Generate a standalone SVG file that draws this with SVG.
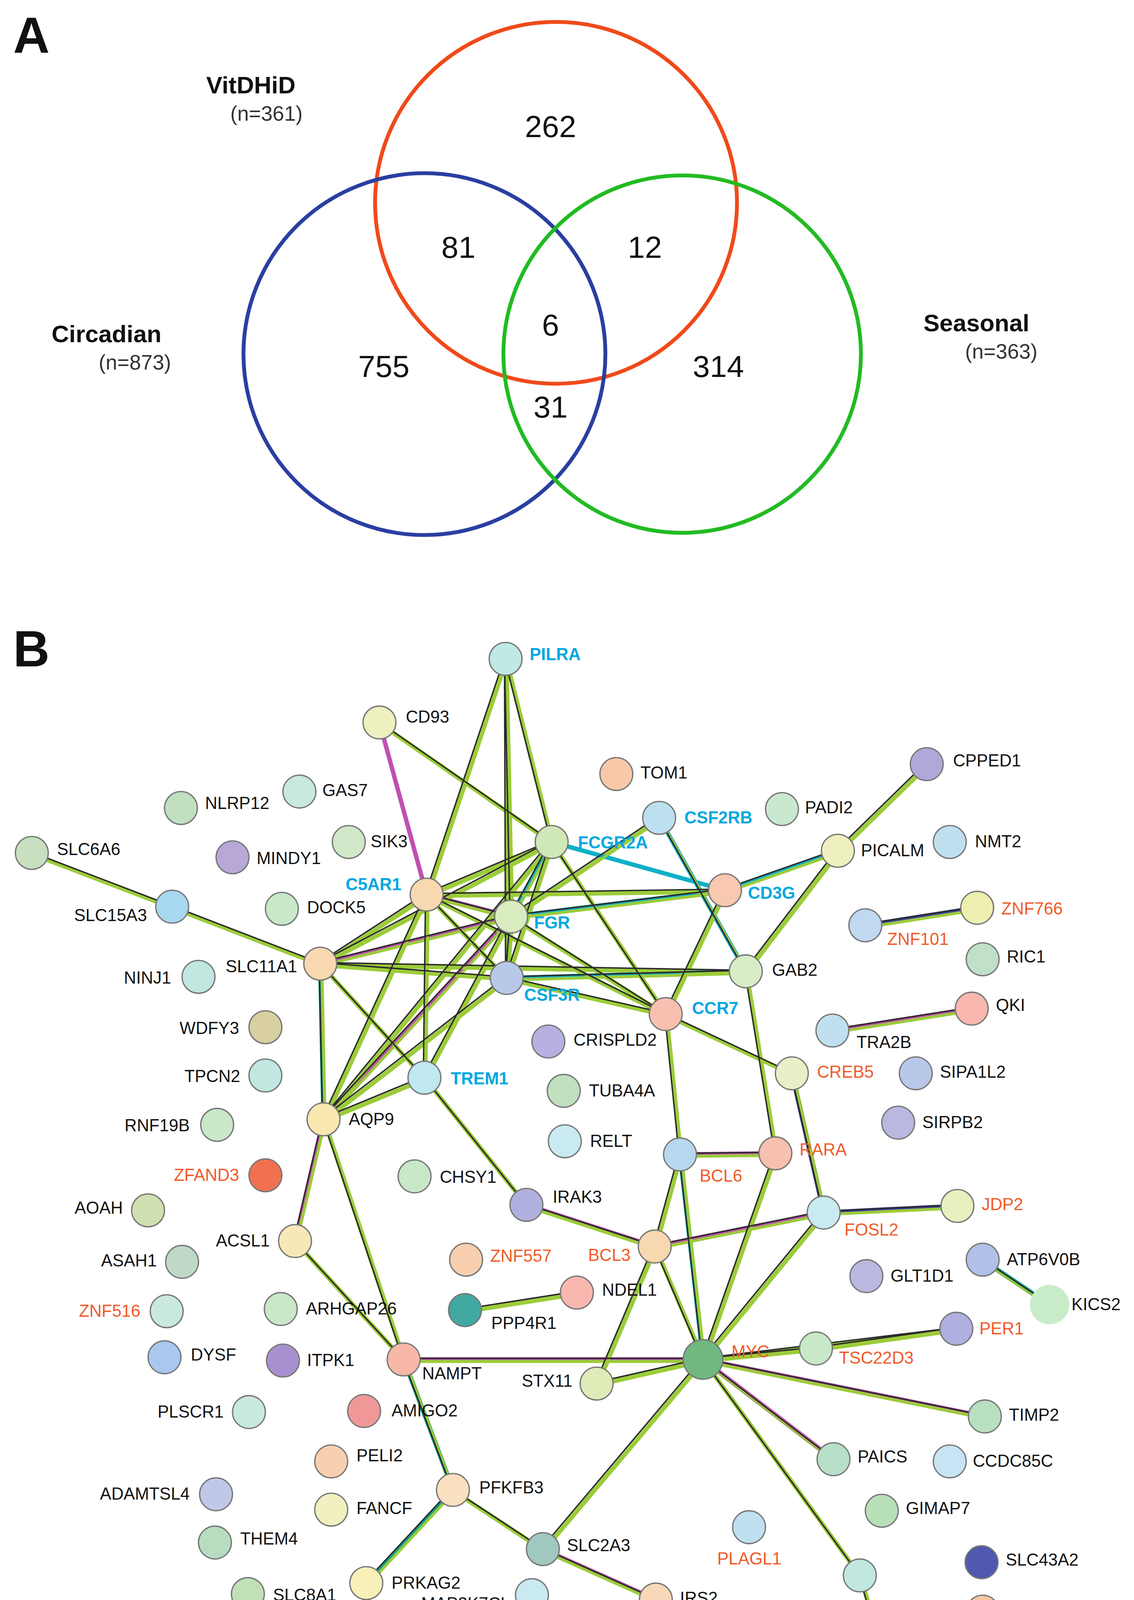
<svg xmlns="http://www.w3.org/2000/svg" xmlns:xlink="http://www.w3.org/1999/xlink" width="2902" height="4408" viewBox="0 0 2902 4408">
<style>
text{font-family:"Liberation Sans",Arial,sans-serif;fill:#111}
.big{font-size:46px;font-weight:bold}
.num{font-size:28px}
.set{font-size:22px;font-weight:bold}
.n{font-size:19px;fill:#333}
.l{font-size:15.5px}
.c{fill:#00a8e0;font-weight:bold}
.r{fill:#f05a28}
.end{text-anchor:end}
circle.v{fill:none;stroke-width:3.5}
.nd circle{stroke:#777;stroke-width:1.2}
.eg{fill:none;stroke:#9ccc3a;stroke-width:4}
.ek{fill:none;stroke:#2a2a2a;stroke-width:1.3}
.ep{stroke:#c050b0;stroke-width:4}
.ec{stroke:#10b0c8;stroke-width:4}
.eb{stroke:#4040a0;stroke-width:4}
.et{stroke:#10a090;stroke-width:4}
</style>
<rect width="2902" height="4408" fill="#fff"/>
<g transform="scale(2.8066)">
<g id="venn">
<text class="big" x="12" y="48">A</text>
<circle class="v" cx="507" cy="185" r="165" stroke="#f04a1a"/>
<circle class="v" cx="387" cy="323" r="165" stroke="#2a3fa0"/>
<circle class="v" cx="622" cy="323" r="163" stroke="#22bb22"/>
<text class="set" x="188" y="85">VitDHiD</text><text class="n" x="210" y="110">(n=361)</text>
<text class="set" x="47" y="312">Circadian</text><text class="n" x="90" y="337">(n=873)</text>
<text class="set" x="842" y="302">Seasonal</text><text class="n" x="880" y="327">(n=363)</text>
<g text-anchor="middle">
<text class="num" x="502" y="125">262</text><text class="num" x="418" y="235">81</text><text class="num" x="588" y="235">12</text><text class="num" x="502" y="306">6</text><text class="num" x="350" y="344">755</text><text class="num" x="655" y="344">314</text><text class="num" x="502" y="381">31</text>
</g>
</g>
<text class="big" x="12" y="608">B</text>
<defs>
<g id="E">
<path d="M461 601L389 816M461 601L503 768M461 601L466 836M461 601L462 892M346 659L503 768M29 778L157 827M157 827L292 879M389 816L292 879M389 816L503 768M389 816L466 836M389 816L462 892M389 816L387 983M389 816L295 1021M389 816L661 812M389 816L607 925M503 768L292 879M503 768L466 836M503 768L462 892M503 768L295 1021M503 768L607 925M466 836L292 879M466 836L661 812M466 836L462 892M466 836L387 983M466 836L295 1021M466 836L607 925M601 746L680 886M601 746L466 836M764 776L845 697M764 776L661 812M764 776L680 886M886 920L759 940M292 879L462 892M292 879L680 886M292 879L387 983M292 879L295 1021M462 892L295 1021M462 892L680 886M462 892L607 925M661 812L607 925M607 925L722 979M607 925L620 1053M680 886L707 1052M387 983L295 1021M387 983L480 1099M295 1021L269 1132M295 1021L368 1240M722 979L751 1106M480 1099L597 1137M620 1053L707 1052M620 1053L597 1137M620 1053L641 1240M707 1052L641 1240M751 1106L597 1137M751 1106L873 1100M751 1106L641 1240M597 1137L544 1262M597 1137L641 1240M526 1179L424 1195M896 1149L957 1190M269 1132L368 1240M368 1240L641 1240M368 1240L413 1359M641 1240L744 1230M641 1240L872 1212M641 1240L898 1292M641 1240L760 1331M641 1240L784 1437M641 1240L495 1413M641 1240L544 1262M744 1230L872 1212M413 1359L495 1413M413 1359L334 1444M495 1413L598 1459M784 1437L813 1537M789 844L891 828"/>
</g>
</defs>
<g id="connectors">
<g class="eg"><use xlink:href="#E" transform="translate(0.8,1.2)"/></g>
<g fill="none">
<path class="ep" d="M346 659L389 816M389 816L466 836M292 879L466 836M466 836L295 1021M269 1132L295 1021M480 1099L597 1137M620 1053L707 1052M751 1106L597 1137M368 1240L641 1240M495 1413L598 1459M886 920L759 940M641 1240L760 1331M641 1240L898 1292"/>
<path class="ec" d="M503 768L661 812M764 776L661 812M601 746L680 886M620 1053L641 1240M466 836L462 892M466 836L661 812M462 892L680 886M503 768L466 836"/>
<path class="eb" d="M789 844L891 828M751 1106L873 1100M722 979L751 1106"/>
<path class="et" d="M292 879L295 1021M368 1240L413 1359M413 1359L334 1444M896 1149L957 1190"/>
</g>
<g class="eg" style="stroke-width:2.2"><use xlink:href="#E" transform="translate(1.2,1.6)"/></g>
<g class="ek"><use xlink:href="#E" transform="translate(-1,-1)"/></g>
</g>
<g class="nd">
<g id="PILRA"><circle cx="461" cy="601" r="15" fill="#c0e8e4"/><text class="l c" x="483" y="602">PILRA</text></g>
<g id="CD93"><circle cx="346" cy="659" r="15" fill="#eef0c0"/><text class="l" x="370" y="659">CD93</text></g>
<g id="TOM1"><circle cx="562" cy="706" r="15" fill="#f8c8a8"/><text class="l" x="584" y="710">TOM1</text></g>
<g id="CPPED1"><circle cx="845" cy="697" r="15" fill="#b0a8d8"/><text class="l" x="869" y="699">CPPED1</text></g>
<g id="NLRP12"><circle cx="165" cy="737" r="15" fill="#c0e0c0"/><text class="l" x="187" y="738">NLRP12</text></g>
<g id="GAS7"><circle cx="273" cy="722" r="15" fill="#c8e8e0"/><text class="l" x="294" y="726">GAS7</text></g>
<g id="PADI2"><circle cx="713" cy="738" r="15" fill="#c8e8d0"/><text class="l" x="734" y="742">PADI2</text></g>
<g id="CSF2RB"><circle cx="601" cy="746" r="15" fill="#bde0f0"/><text class="l c" x="624" y="751">CSF2RB</text></g>
<g id="SLC6A6"><circle cx="29" cy="778" r="15" fill="#c8e0c0"/><text class="l" x="52" y="780">SLC6A6</text></g>
<g id="MINDY1"><circle cx="212" cy="782" r="15" fill="#b8a8d8"/><text class="l" x="234" y="788">MINDY1</text></g>
<g id="SIK3"><circle cx="318" cy="768" r="15" fill="#d0e8c8"/><text class="l" x="338" y="773">SIK3</text></g>
<g id="FCGR2A"><circle cx="503" cy="768" r="15" fill="#d0e8b8"/><text class="l c" x="527" y="774">FCGR2A</text></g>
<g id="PICALM"><circle cx="764" cy="776" r="15" fill="#eef0c0"/><text class="l" x="785" y="781">PICALM</text></g>
<g id="NMT2"><circle cx="866" cy="768" r="15" fill="#c0e0f0"/><text class="l" x="889" y="773">NMT2</text></g>
<g id="C5AR1"><circle cx="389" cy="816" r="15" fill="#f8d8b0"/><text class="l c end" x="366" y="812">C5AR1</text></g>
<g id="SLC15A3"><circle cx="157" cy="827" r="15" fill="#a8d8f0"/><text class="l end" x="134" y="840">SLC15A3</text></g>
<g id="DOCK5"><circle cx="257" cy="829" r="15" fill="#c8e8c8"/><text class="l" x="280" y="833">DOCK5</text></g>
<g id="CD3G"><circle cx="661" cy="812" r="15" fill="#f8c8b0"/><text class="l c" x="682" y="820">CD3G</text></g>
<g id="ZNF766"><circle cx="891" cy="828" r="15" fill="#eef0b0"/><text class="l r" x="913" y="834">ZNF766</text></g>
<g id="ZNF101"><circle cx="789" cy="844" r="15" fill="#c0d8f0"/><text class="l r" x="809" y="862">ZNF101</text></g>
<g id="FGR"><circle cx="466" cy="836" r="15" fill="#d8ecc0"/><text class="l c" x="487" y="847">FGR</text></g>
<g id="NINJ1"><circle cx="181" cy="891" r="15" fill="#c0e8e0"/><text class="l end" x="156" y="897">NINJ1</text></g>
<g id="SLC11A1"><circle cx="292" cy="879" r="15" fill="#f8d8b0"/><text class="l end" x="271" y="887">SLC11A1</text></g>
<g id="GAB2"><circle cx="680" cy="886" r="15" fill="#d8ecc8"/><text class="l" x="704" y="890">GAB2</text></g>
<g id="RIC1"><circle cx="896" cy="875" r="15" fill="#c0e0c8"/><text class="l" x="918" y="878">RIC1</text></g>
<g id="CSF3R"><circle cx="462" cy="892" r="15" fill="#b8c8e8"/><text class="l c" x="478" y="913">CSF3R</text></g>
<g id="QKI"><circle cx="886" cy="920" r="15" fill="#f8b8b0"/><text class="l" x="908" y="922">QKI</text></g>
<g id="CCR7"><circle cx="607" cy="925" r="15" fill="#f8c0b0"/><text class="l c" x="631" y="925">CCR7</text></g>
<g id="WDFY3"><circle cx="242" cy="937" r="15" fill="#d8d0a0"/><text class="l end" x="218" y="943">WDFY3</text></g>
<g id="TRA2B"><circle cx="759" cy="940" r="15" fill="#c0e0f0"/><text class="l" x="781" y="956">TRA2B</text></g>
<g id="CRISPLD2"><circle cx="500" cy="950" r="15" fill="#b8b0e0"/><text class="l" x="523" y="954">CRISPLD2</text></g>
<g id="CREB5"><circle cx="722" cy="979" r="15" fill="#e8f0c8"/><text class="l r" x="745" y="983">CREB5</text></g>
<g id="SIPA1L2"><circle cx="835" cy="979" r="15" fill="#b8c8e8"/><text class="l" x="857" y="983">SIPA1L2</text></g>
<g id="TPCN2"><circle cx="242" cy="981" r="15" fill="#c0e8e0"/><text class="l end" x="219" y="987">TPCN2</text></g>
<g id="TREM1"><circle cx="387" cy="983" r="15" fill="#c0e8f0"/><text class="l c" x="411" y="989">TREM1</text></g>
<g id="TUBA4A"><circle cx="514" cy="995" r="15" fill="#c0e0c0"/><text class="l" x="537" y="1000">TUBA4A</text></g>
<g id="SIRPB2"><circle cx="819" cy="1024" r="15" fill="#b8b8e0"/><text class="l" x="841" y="1029">SIRPB2</text></g>
<g id="RNF19B"><circle cx="198" cy="1026" r="15" fill="#c8e8c8"/><text class="l end" x="173" y="1032">RNF19B</text></g>
<g id="AQP9"><circle cx="295" cy="1021" r="15" fill="#f8e8b0"/><text class="l" x="318" y="1026">AQP9</text></g>
<g id="RELT"><circle cx="515" cy="1041" r="15" fill="#c8eaf0"/><text class="l" x="538" y="1046">RELT</text></g>
<g id="BCL6"><circle cx="620" cy="1053" r="15" fill="#b8d8f0"/><text class="l r" x="638" y="1078">BCL6</text></g>
<g id="RARA"><circle cx="707" cy="1052" r="15" fill="#f8c0b0"/><text class="l r" x="729" y="1054">RARA</text></g>
<g id="ZFAND3"><circle cx="242" cy="1072" r="15" fill="#f07050"/><text class="l r end" x="218" y="1077">ZFAND3</text></g>
<g id="CHSY1"><circle cx="378" cy="1073" r="15" fill="#c8e8c8"/><text class="l" x="401" y="1079">CHSY1</text></g>
<g id="AOAH"><circle cx="135" cy="1104" r="15" fill="#d0e0b0"/><text class="l end" x="112" y="1107">AOAH</text></g>
<g id="IRAK3"><circle cx="480" cy="1099" r="15" fill="#b0b0e0"/><text class="l" x="504" y="1097">IRAK3</text></g>
<g id="FOSL2"><circle cx="751" cy="1106" r="15" fill="#c8eaf0"/><text class="l r" x="770" y="1127">FOSL2</text></g>
<g id="JDP2"><circle cx="873" cy="1100" r="15" fill="#e8f0c0"/><text class="l r" x="895" y="1104">JDP2</text></g>
<g id="ACSL1"><circle cx="269" cy="1132" r="15" fill="#f8e8b8"/><text class="l end" x="246" y="1137">ACSL1</text></g>
<g id="ZNF557"><circle cx="425" cy="1149" r="15" fill="#f8d0b0"/><text class="l r" x="447" y="1151">ZNF557</text></g>
<g id="BCL3"><circle cx="597" cy="1137" r="15" fill="#f8d8b0"/><text class="l r end" x="575" y="1150">BCL3</text></g>
<g id="ASAH1"><circle cx="166" cy="1151" r="15" fill="#c0d8c8"/><text class="l end" x="143" y="1155">ASAH1</text></g>
<g id="ATP6V0B"><circle cx="896" cy="1149" r="15" fill="#b0c0e8"/><text class="l" x="918" y="1154">ATP6V0B</text></g>
<g id="KICS2"><circle cx="957" cy="1190" r="18" fill="#c8ecc8" style="stroke:none"/><text class="l" x="977" y="1195">KICS2</text></g>
<g id="GLT1D1"><circle cx="790" cy="1164" r="15" fill="#b8b8e0"/><text class="l" x="812" y="1169">GLT1D1</text></g>
<g id="NDEL1"><circle cx="526" cy="1179" r="15" fill="#f8b8b0"/><text class="l" x="549" y="1182">NDEL1</text></g>
<g id="ZNF516"><circle cx="152" cy="1196" r="15" fill="#c8e8e0"/><text class="l r end" x="128" y="1201">ZNF516</text></g>
<g id="ARHGAP26"><circle cx="256" cy="1194" r="15" fill="#c8e8c8"/><text class="l" x="279" y="1199">ARHGAP26</text></g>
<g id="PPP4R1"><circle cx="424" cy="1195" r="15" fill="#40a8a0"/><text class="l" x="448" y="1212">PPP4R1</text></g>
<g id="PER1"><circle cx="872" cy="1212" r="15" fill="#b0b0e0"/><text class="l r" x="893" y="1217">PER1</text></g>
<g id="DYSF"><circle cx="150" cy="1238" r="15" fill="#a8c8f0"/><text class="l" x="174" y="1241">DYSF</text></g>
<g id="ITPK1"><circle cx="258" cy="1241" r="15" fill="#a890d0"/><text class="l" x="280" y="1246">ITPK1</text></g>
<g id="NAMPT"><circle cx="368" cy="1240" r="15" fill="#f8b8a8"/><text class="l" x="385" y="1258">NAMPT</text></g>
<g id="MYC"><circle cx="641" cy="1240" r="18" fill="#70b880"/><text class="l r" x="667" y="1238">MYC</text></g>
<g id="TSC22D3"><circle cx="744" cy="1230" r="15" fill="#c8e8c8"/><text class="l r" x="765" y="1244">TSC22D3</text></g>
<g id="STX11"><circle cx="544" cy="1262" r="15" fill="#e0ecb8"/><text class="l end" x="522" y="1265">STX11</text></g>
<g id="PLSCR1"><circle cx="227" cy="1288" r="15" fill="#c8e8e0"/><text class="l end" x="204" y="1293">PLSCR1</text></g>
<g id="AMIGO2"><circle cx="332" cy="1287" r="15" fill="#f09898"/><text class="l" x="357" y="1292">AMIGO2</text></g>
<g id="TIMP2"><circle cx="898" cy="1292" r="15" fill="#b8e0c0"/><text class="l" x="920" y="1296">TIMP2</text></g>
<g id="PELI2"><circle cx="302" cy="1333" r="15" fill="#f8d0b0"/><text class="l" x="325" y="1333">PELI2</text></g>
<g id="PAICS"><circle cx="760" cy="1331" r="15" fill="#b8e0c8"/><text class="l" x="782" y="1334">PAICS</text></g>
<g id="CCDC85C"><circle cx="866" cy="1333" r="15" fill="#c8e4f4"/><text class="l" x="887" y="1338">CCDC85C</text></g>
<g id="ADAMTSL4"><circle cx="197" cy="1363" r="15" fill="#c0c8e8"/><text class="l end" x="173" y="1368">ADAMTSL4</text></g>
<g id="PFKFB3"><circle cx="413" cy="1359" r="15" fill="#f8e0c0"/><text class="l" x="437" y="1362">PFKFB3</text></g>
<g id="FANCF"><circle cx="302" cy="1377" r="15" fill="#f0f0c0"/><text class="l" x="325" y="1381">FANCF</text></g>
<g id="GIMAP7"><circle cx="804" cy="1378" r="15" fill="#b8e0b8"/><text class="l" x="826" y="1381">GIMAP7</text></g>
<g id="THEM4"><circle cx="196" cy="1407" r="15" fill="#b8dcc0"/><text class="l" x="219" y="1409">THEM4</text></g>
<g id="SLC2A3"><circle cx="495" cy="1413" r="15" fill="#a0c8c0"/><text class="l" x="517" y="1415">SLC2A3</text></g>
<g id="PLAGL1"><circle cx="683" cy="1393" r="15" fill="#c0e0f0"/><text class="l r" x="654" y="1427">PLAGL1</text></g>
<g id="SLC43A2"><circle cx="895" cy="1425" r="15" fill="#5058b0"/><text class="l" x="917" y="1428">SLC43A2</text></g>
<g id="SLC8A1"><circle cx="226" cy="1454" r="15" fill="#c0e0b8"/><text class="l" x="249" y="1460">SLC8A1</text></g>
<g id="PRKAG2"><circle cx="334" cy="1444" r="15" fill="#f8f0b8"/><text class="l" x="357" y="1449">PRKAG2</text></g>
<g id="MAP3K7CL"><circle cx="485" cy="1455" r="15" fill="#c8eaf0"/><text class="l end" x="465" y="1468">MAP3K7CL</text></g>
<g id="IRS2"><circle cx="598" cy="1459" r="15" fill="#f8d8b8"/><text class="l" x="620" y="1463">IRS2</text></g>
<g id="GADD45B"><circle cx="784" cy="1437" r="15" fill="#c0e8e0"/><text class="l" x="705" y="1472">GADD45B</text></g>
<g id="PPM1K"><circle cx="896" cy="1470" r="15" fill="#f8c8a0"/><text class="l" x="918" y="1474">PPM1K</text></g>
<g id="CSRNP1"><circle cx="813" cy="1537" r="15" fill="#b8b8e8"/><text class="l r" x="835" y="1542">CSRNP1</text></g>
</g>
</g>
</svg>
